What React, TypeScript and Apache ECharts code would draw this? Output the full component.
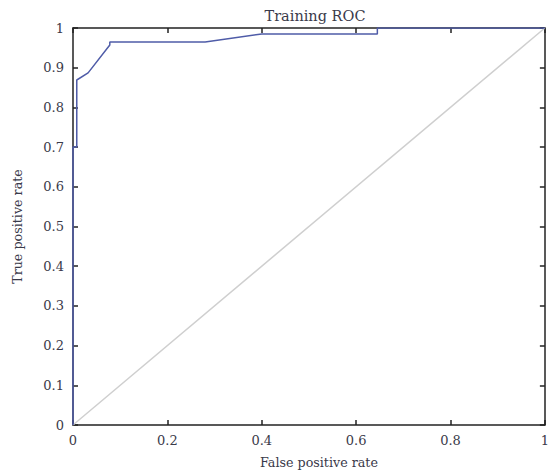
import React, { useEffect, useRef } from "react";
import * as echarts from "echarts";

const fpr = [0, 0, 0.008, 0.008, 0.032, 0.078, 0.078, 0.28, 0.4, 0.645, 0.645, 1];
const tpr = [0, 0.7, 0.7, 0.869, 0.887, 0.957, 0.965, 0.965, 0.985, 0.985, 1, 1];
const diagX = [0, 1];
const diagY = [0, 1];
const title = "Training ROC";
const xName = "False positive rate";
const yName = "True positive rate";

const FONT = "DejaVu Serif";
const TXT = "#3a3a4a";

export default function App() {
  const ref = useRef<HTMLDivElement>(null);
  useEffect(() => {
    const chart = echarts.init(ref.current!, undefined, { renderer: "svg" });
    const axisLine = { show: true, onZero: false, lineStyle: { color: "#222", width: 1.5 } };
    const axisTick = { show: true, inside: true, length: 5, lineStyle: { color: "#222", width: 1.5 } };
    chart.setOption({
      animation: false,
      backgroundColor: "#fff",
      title: {
        text: title,
        left: 310,
        top: 3,
        textAlign: "center",
        textStyle: { fontFamily: FONT, fontSize: 14.5, fontWeight: "normal", color: TXT },
      },
      grid: { left: 73, right: 7, top: 28, bottom: 50 },
      xAxis: [
        {
          type: "value",
          min: 0,
          max: 1,
          interval: 0.2,
          position: "bottom",
          name: xName,
          nameLocation: "middle",
          nameGap: 31,
          nameTextStyle: { fontFamily: FONT, fontSize: 12.7, color: TXT, padding: [0, 0, 0, 20] },
          axisLine,
          axisTick,
          splitLine: { show: false },
          axisLabel: {
            fontFamily: FONT,
            fontSize: 13,
            color: TXT,
            margin: 9,
            formatter: (v: number) => String(+v.toFixed(1)),
          },
        },
        {
          type: "value",
          min: 0,
          max: 1,
          interval: 0.2,
          position: "top",
          axisLine,
          axisTick,
          splitLine: { show: false },
          axisLabel: { show: false },
        },
      ],
      yAxis: [
        {
          type: "value",
          min: 0,
          max: 1,
          interval: 0.1,
          position: "left",
          name: yName,
          nameLocation: "middle",
          nameGap: 49,
          nameTextStyle: { fontFamily: FONT, fontSize: 12.7, color: TXT },
          axisLine,
          axisTick,
          splitLine: { show: false },
          axisLabel: {
            fontFamily: FONT,
            fontSize: 13,
            color: TXT,
            margin: 9,
            formatter: (v: number) => String(+v.toFixed(1)),
          },
        },
        {
          type: "value",
          min: 0,
          max: 1,
          interval: 0.1,
          position: "right",
          axisLine,
          axisTick,
          splitLine: { show: false },
          axisLabel: { show: false },
        },
      ],
      series: [
        {
          type: "line",
          data: diagX.map((x, i) => [x, diagY[i]]),
          symbol: "none",
          lineStyle: { color: "#cfcfcf", width: 1.5 },
          z: 1,
        },
        {
          type: "line",
          data: fpr.map((x, i) => [x, tpr[i]]),
          symbol: "none",
          lineStyle: { color: "#4f5ca8", width: 1.5 },
          z: 3,
        },
      ],
    });
    return () => chart.dispose();
  }, []);
  return <div ref={ref} style={{ width: 552, height: 475, position: "absolute", left: 0, top: 0 }} />;
}
